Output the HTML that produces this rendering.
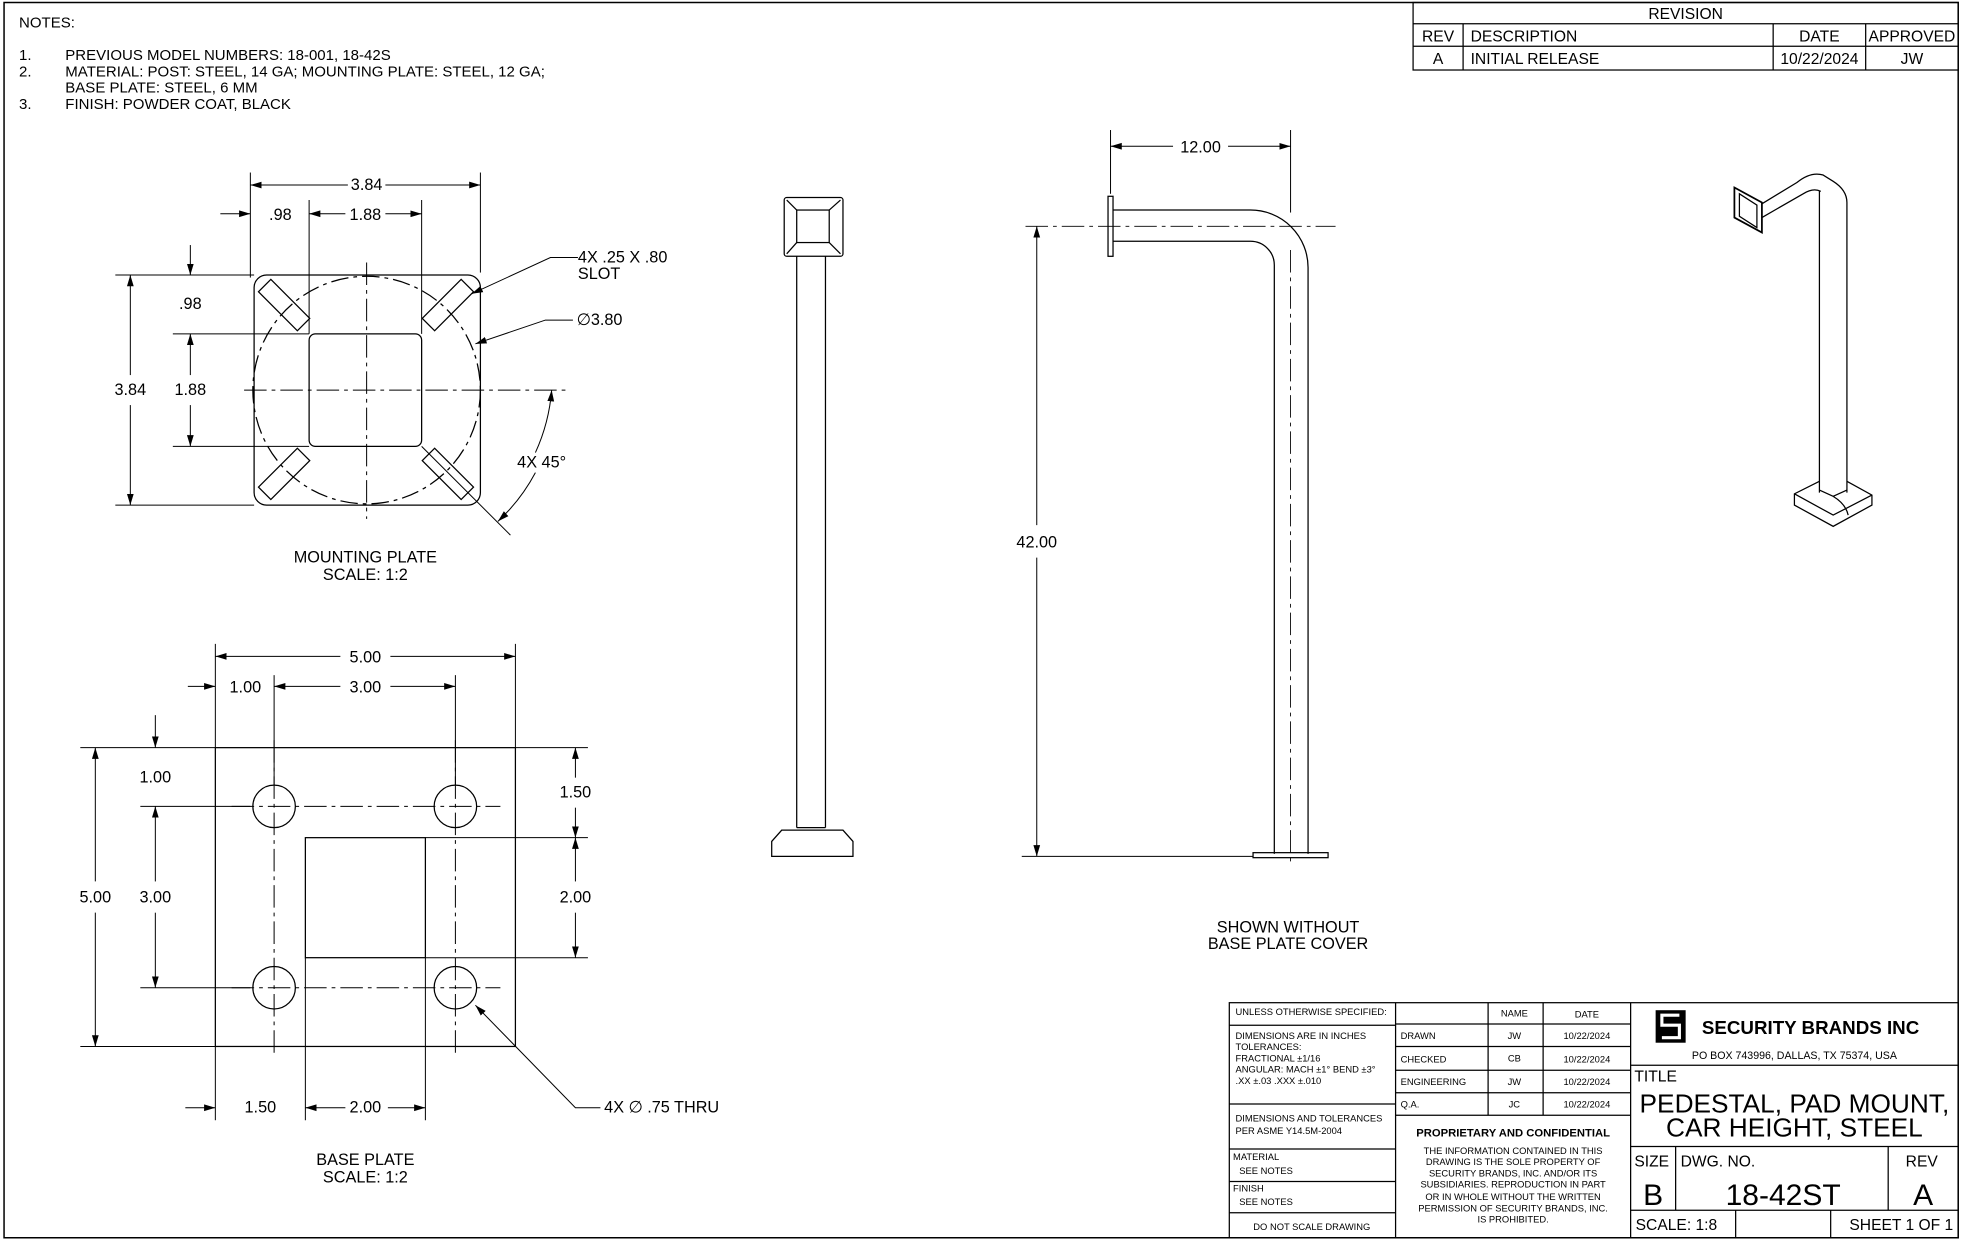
<!DOCTYPE html>
<html><head><meta charset="utf-8"><style>html,body{margin:0;padding:0;background:#fff}svg{display:block}text{font-family:"Liberation Sans",Arial,sans-serif;fill:#000}</style></head><body>
<svg width="1961" height="1239" viewBox="0 0 1568 991" xmlns="http://www.w3.org/2000/svg">
<defs>
<marker id="a" viewBox="0 0 10 10" refX="10" refY="5" markerWidth="9" markerHeight="9" markerUnits="userSpaceOnUse" orient="auto-start-reverse"><path d="M0,2L10,5L0,8z" fill="#000"/></marker>
</defs>
<g fill="none" stroke="#000" stroke-width="1">
<rect x="3" y="2" width="1563" height="988" stroke-width="1.2"/>
<rect x="1130" y="2" width="436" height="54"/>
<line x1="1130" y1="19" x2="1566" y2="19"/><line x1="1130" y1="37" x2="1566" y2="37"/>
<line x1="1170" y1="19" x2="1170" y2="56"/><line x1="1418" y1="19" x2="1418" y2="56"/><line x1="1492" y1="19" x2="1492" y2="56"/>
</g>
<g font-size="12.5">
<text x="1348" y="15" text-anchor="middle">REVISION</text>
<text x="1150" y="33" text-anchor="middle">REV</text><text x="1176" y="33">DESCRIPTION</text><text x="1455" y="33" text-anchor="middle">DATE</text><text x="1529" y="33" text-anchor="middle">APPROVED</text>
<text x="1150" y="51" text-anchor="middle">A</text><text x="1176" y="51">INITIAL RELEASE</text><text x="1455" y="51" text-anchor="middle">10/22/2024</text><text x="1529" y="51" text-anchor="middle">JW</text>
</g>
<g font-size="12">
<text x="15" y="22">NOTES:</text>
<text x="15" y="48">1.</text><text x="52" y="48">PREVIOUS MODEL NUMBERS: 18-001, 18-42S</text>
<text x="15" y="61">2.</text><text x="52" y="61">MATERIAL: POST: STEEL, 14 GA; MOUNTING PLATE: STEEL, 12 GA;</text>
<text x="52" y="74">BASE PLATE: STEEL, 6 MM</text>
<text x="15" y="87">3.</text><text x="52" y="87">FINISH: POWDER COAT, BLACK</text>
</g>

<g fill="none" stroke="#000" stroke-width="1">
<rect x="203" y="220" width="181" height="184" rx="10"/>
<rect x="247" y="267" width="90" height="90" rx="5"/>
<circle cx="293" cy="312" r="91" stroke-dasharray="14,4,3,4"/>
<g stroke-dasharray="18,4,3,4" stroke-width="0.8"><line x1="195" y1="312" x2="455" y2="312"/><line x1="293" y1="210" x2="293" y2="415"/></g>
<rect x="-22" y="-7" width="44" height="14" transform="translate(227,244) rotate(45)"/>
<rect x="-22" y="-7" width="44" height="14" transform="translate(358,244) rotate(-45)"/>
<rect x="-22" y="-7" width="44" height="14" transform="translate(227,379) rotate(-45)"/>
<rect x="-22" y="-7" width="44" height="14" transform="translate(358,379) rotate(45)"/>
<g stroke-width="0.8">
<line x1="200" y1="138" x2="200" y2="222"/><line x1="384" y1="138" x2="384" y2="218"/>
<line x1="247" y1="160" x2="247" y2="267"/><line x1="337" y1="160" x2="337" y2="267"/>
<line x1="200" y1="148" x2="278" y2="148" marker-start="url(#a)"/><line x1="308" y1="148" x2="384" y2="148" marker-end="url(#a)"/>
<line x1="176" y1="171" x2="200" y2="171" marker-end="url(#a)"/>
<line x1="247" y1="171" x2="276" y2="171" marker-start="url(#a)"/><line x1="308" y1="171" x2="337" y2="171" marker-end="url(#a)"/>
<line x1="92" y1="220" x2="203" y2="220"/><line x1="92" y1="404" x2="203" y2="404"/>
<line x1="138" y1="267" x2="247" y2="267"/><line x1="138" y1="357" x2="247" y2="357"/>
<line x1="104" y1="220" x2="104" y2="300" marker-start="url(#a)"/><line x1="104" y1="324" x2="104" y2="404" marker-end="url(#a)"/>
<line x1="152" y1="196" x2="152" y2="220" marker-end="url(#a)"/>
<line x1="152" y1="267" x2="152" y2="300" marker-start="url(#a)"/><line x1="152" y1="324" x2="152" y2="357" marker-end="url(#a)"/>
<polyline points="462,206 440,206 377,235" marker-end="url(#a)"/>
<polyline points="458,256 436,256 380,275" marker-end="url(#a)"/>
<line x1="337" y1="357" x2="408" y2="428"/>
<path d="M441,312 A148,148 0 0 1 428,362" marker-start="url(#a)"/>
<path d="M428,378 A148,148 0 0 1 398,417" marker-end="url(#a)"/>
</g>
</g>
<g font-size="13" text-anchor="middle">
<text x="293" y="152">3.84</text><text x="224" y="176">.98</text><text x="292" y="176">1.88</text>
<text x="104" y="316">3.84</text><text x="152" y="247">.98</text><text x="152" y="316">1.88</text>
<text x="433" y="374">4X 45°</text>
<text x="292" y="450">MOUNTING PLATE</text><text x="292" y="464">SCALE: 1:2</text>
</g>
<g font-size="13"><text x="462" y="210">4X .25 X .80</text><text x="462" y="223">SLOT</text><text x="461" y="260">∅3.80</text></g>

<g fill="none" stroke="#000" stroke-width="1">
<rect x="172" y="598" width="240" height="239"/>
<rect x="244" y="670" width="96" height="96"/>
<circle cx="219" cy="645" r="17"/><circle cx="364" cy="645" r="17"/><circle cx="219" cy="790" r="17"/><circle cx="364" cy="790" r="17"/>
<g stroke-dasharray="18,4,3,4" stroke-width="0.8">
<line x1="185" y1="645" x2="400" y2="645"/><line x1="185" y1="790" x2="400" y2="790"/>
<line x1="219" y1="592" x2="219" y2="845"/><line x1="364" y1="592" x2="364" y2="845"/>
</g>
<g stroke-width="0.8">
<line x1="172" y1="515" x2="172" y2="598"/><line x1="412" y1="515" x2="412" y2="598"/>
<line x1="219" y1="540" x2="219" y2="628"/><line x1="364" y1="540" x2="364" y2="628"/>
<line x1="172" y1="525" x2="272" y2="525" marker-start="url(#a)"/><line x1="312" y1="525" x2="412" y2="525" marker-end="url(#a)"/>
<line x1="150" y1="549" x2="172" y2="549" marker-end="url(#a)"/>
<line x1="219" y1="549" x2="272" y2="549" marker-start="url(#a)"/><line x1="312" y1="549" x2="364" y2="549" marker-end="url(#a)"/>
<line x1="64" y1="598" x2="172" y2="598"/><line x1="64" y1="837" x2="172" y2="837"/>
<line x1="112" y1="645" x2="200" y2="645"/><line x1="112" y1="790" x2="200" y2="790"/>
<line x1="76" y1="598" x2="76" y2="705" marker-start="url(#a)"/><line x1="76" y1="730" x2="76" y2="837" marker-end="url(#a)"/>
<line x1="124" y1="572" x2="124" y2="598" marker-end="url(#a)"/>
<line x1="124" y1="645" x2="124" y2="705" marker-start="url(#a)"/><line x1="124" y1="730" x2="124" y2="790" marker-end="url(#a)"/>
<line x1="412" y1="598" x2="470" y2="598"/><line x1="340" y1="670" x2="470" y2="670"/><line x1="340" y1="766" x2="470" y2="766"/>
<line x1="460" y1="598" x2="460" y2="622" marker-start="url(#a)"/><line x1="460" y1="646" x2="460" y2="670" marker-end="url(#a)"/>
<line x1="460" y1="670" x2="460" y2="705" marker-start="url(#a)"/><line x1="460" y1="730" x2="460" y2="766" marker-end="url(#a)"/>
<line x1="172" y1="837" x2="172" y2="896"/><line x1="244" y1="766" x2="244" y2="896"/><line x1="340" y1="766" x2="340" y2="896"/>
<line x1="148" y1="886" x2="172" y2="886" marker-end="url(#a)"/>
<line x1="244" y1="886" x2="276" y2="886" marker-start="url(#a)"/><line x1="310" y1="886" x2="340" y2="886" marker-end="url(#a)"/>
<polyline points="480,886 460,886 380,804" marker-end="url(#a)"/>
</g>
</g>
<g font-size="13" text-anchor="middle">
<text x="292" y="530">5.00</text><text x="196" y="554">1.00</text><text x="292" y="554">3.00</text>
<text x="76" y="722">5.00</text><text x="124" y="626">1.00</text><text x="124" y="722">3.00</text>
<text x="460" y="638">1.50</text><text x="460" y="722">2.00</text>
<text x="208" y="890">1.50</text><text x="292" y="890">2.00</text>
<text x="292" y="932">BASE PLATE</text><text x="292" y="946">SCALE: 1:2</text>
</g>
<text x="483" y="890" font-size="13">4X ∅ .75 THRU</text>

<g fill="none" stroke="#000" stroke-width="1">
<rect x="627" y="158" width="47" height="47" rx="2"/>
<rect x="637" y="168" width="26" height="26"/>
<line x1="629" y1="160" x2="637" y2="168"/><line x1="672" y1="160" x2="663" y2="168"/><line x1="629" y1="203" x2="637" y2="194"/><line x1="672" y1="203" x2="663" y2="194"/>
<line x1="637" y1="205" x2="637" y2="662"/><line x1="660" y1="205" x2="660" y2="662"/>
<path d="M617,685 L617,673 L625,664 L674,664 L682,673 L682,685 Z"/>
<line x1="637" y1="662" x2="660" y2="662"/>
</g>

<g fill="none" stroke="#000" stroke-width="1">
<rect x="886" y="157" width="4" height="48"/>
<path d="M890,168 L1000,168 A46,46 0 0 1 1046,214 L1046,683"/>
<path d="M890,193 L1000,193 A19,19 0 0 1 1019,212 L1019,683"/>
<rect x="1002" y="682" width="60" height="4"/>
<g stroke-dasharray="18,4,3,4" stroke-width="0.7">
<line x1="820" y1="181" x2="1068" y2="181"/><line x1="1032" y1="200" x2="1032" y2="692"/>
</g>
<g stroke-width="0.8">
<line x1="888" y1="104" x2="888" y2="155"/><line x1="1032" y1="104" x2="1032" y2="170"/>
<line x1="888" y1="117" x2="938" y2="117" marker-start="url(#a)"/><line x1="982" y1="117" x2="1032" y2="117" marker-end="url(#a)"/>
<line x1="817" y1="685" x2="1002" y2="685"/>
<line x1="829" y1="181" x2="829" y2="420" marker-start="url(#a)"/><line x1="829" y1="446" x2="829" y2="685" marker-end="url(#a)"/>
</g>
</g>
<g font-size="13" text-anchor="middle">
<text x="960" y="122">12.00</text><text x="829" y="438">42.00</text>
<text x="1030" y="746">SHOWN WITHOUT</text><text x="1030" y="759">BASE PLATE COVER</text>
</g>

<g fill="none" stroke="#000" stroke-width="1">
<path d="M1387,150 L1409,162 L1409,186 L1387,174 Z" stroke-width="1.4"/>
<path d="M1391,155 L1405,164 L1405,182 L1391,173 Z"/>
<path d="M1409,163 L1437,146 Q1448,137 1458,140 L1466,145 Q1477,152 1477,162 L1477,394"/>
<path d="M1409,174 L1442,155 Q1450,150 1456,153 L1455,153 L1455,394"/>
<path d="M1455,392 L1466,397 L1477,392"/>
<path d="M1455,385 L1435,395 L1435,404 L1466,421 L1497,404 L1497,396 L1477,385"/>
<path d="M1435,395 L1466,412 L1497,396"/>
<path d="M1466,397 Q1476,403 1478,412" />
</g>

<g fill="none" stroke="#000" stroke-width="1">
<rect x="983" y="802" width="583" height="188"/>
<line x1="1116" y1="802" x2="1116" y2="990"/><line x1="1304" y1="802" x2="1304" y2="990"/>
<line x1="983" y1="820" x2="1116" y2="820"/><line x1="983" y1="883" x2="1116" y2="883"/><line x1="983" y1="919" x2="1116" y2="919"/><line x1="983" y1="945" x2="1116" y2="945"/><line x1="983" y1="970" x2="1116" y2="970"/>
<line x1="1116" y1="819" x2="1304" y2="819"/><line x1="1116" y1="837" x2="1304" y2="837"/><line x1="1116" y1="856" x2="1304" y2="856"/><line x1="1116" y1="874" x2="1304" y2="874"/><line x1="1116" y1="892" x2="1304" y2="892"/>
<line x1="1190" y1="802" x2="1190" y2="892"/><line x1="1234" y1="802" x2="1234" y2="892"/>
<line x1="1304" y1="852" x2="1566" y2="852"/><line x1="1304" y1="917" x2="1566" y2="917"/><line x1="1304" y1="968" x2="1566" y2="968"/>
<line x1="1340" y1="917" x2="1340" y2="968"/><line x1="1510" y1="917" x2="1510" y2="968"/>
<line x1="1388" y1="968" x2="1388" y2="990"/><line x1="1464" y1="968" x2="1464" y2="990"/>
</g>
<g font-size="7.5">
<text x="988" y="812">UNLESS OTHERWISE SPECIFIED:</text>
<text x="988" y="831">DIMENSIONS ARE IN INCHES</text><text x="988" y="840">TOLERANCES:</text>
<text x="988" y="849">FRACTIONAL ±1/16</text><text x="988" y="858">ANGULAR: MACH ±1°  BEND ±3°</text><text x="988" y="867">.XX ±.03      .XXX ±.010</text>
<text x="988" y="897">DIMENSIONS AND TOLERANCES</text><text x="988" y="907">PER ASME Y14.5M-2004</text>
<text x="986" y="928">MATERIAL</text><text x="991" y="939">SEE NOTES</text>
<text x="986" y="953">FINISH</text><text x="991" y="964">SEE NOTES</text>
<text x="1049" y="984" text-anchor="middle">DO NOT SCALE DRAWING</text>
<text x="1211" y="813" text-anchor="middle">NAME</text><text x="1269" y="814" text-anchor="middle">DATE</text>
<text x="1120" y="831">DRAWN</text><text x="1211" y="831" text-anchor="middle">JW</text><text x="1269" y="831" text-anchor="middle">10/22/2024</text>
<text x="1120" y="850">CHECKED</text><text x="1211" y="849" text-anchor="middle">CB</text><text x="1269" y="850" text-anchor="middle">10/22/2024</text>
<text x="1120" y="868">ENGINEERING</text><text x="1211" y="868" text-anchor="middle">JW</text><text x="1269" y="868" text-anchor="middle">10/22/2024</text>
<text x="1120" y="886">Q.A.</text><text x="1211" y="886" text-anchor="middle">JC</text><text x="1269" y="886" text-anchor="middle">10/22/2024</text>
<g text-anchor="middle"><text x="1210" y="923">THE INFORMATION CONTAINED IN THIS</text><text x="1210" y="932">DRAWING IS THE SOLE PROPERTY OF</text><text x="1210" y="941">SECURITY BRANDS, INC. AND/OR ITS</text><text x="1210" y="950">SUBSIDIARIES. REPRODUCTION IN PART</text><text x="1210" y="960">OR IN WHOLE WITHOUT THE WRITTEN</text><text x="1210" y="969">PERMISSION OF SECURITY BRANDS, INC.</text><text x="1210" y="978">IS PROHIBITED.</text></g>
<text x="1435" y="847" text-anchor="middle" font-size="8.5">PO BOX 743996, DALLAS, TX 75374, USA</text>
</g>
<text x="1210" y="909" text-anchor="middle" font-size="9" font-weight="bold">PROPRIETARY AND CONFIDENTIAL</text>
<g transform="translate(1324,808)"><rect x="0" y="0" width="24" height="26" fill="#000"/><path d="M19,4 H5 V12 H19 V22 H5" fill="none" stroke="#fff" stroke-width="2.5"/></g>
<text x="1361" y="827" font-size="15" font-weight="bold">SECURITY BRANDS INC</text>
<text x="1307" y="865" font-size="12.5">TITLE</text>
<text x="1435" y="890" text-anchor="middle" font-size="21">PEDESTAL, PAD MOUNT,</text>
<text x="1435" y="909" text-anchor="middle" font-size="21">CAR HEIGHT, STEEL</text>
<text x="1307" y="933" font-size="12.5">SIZE</text><text x="1344" y="933" font-size="12.5">DWG.  NO.</text><text x="1524" y="933" font-size="12.5">REV</text>
<text x="1322" y="964" text-anchor="middle" font-size="24">B</text><text x="1426" y="964" text-anchor="middle" font-size="24">18-42ST</text><text x="1538" y="964" text-anchor="middle" font-size="24">A</text>
<text x="1308" y="984" font-size="12.5">SCALE: 1:8</text><text x="1562" y="984" text-anchor="end" font-size="12.5">SHEET 1 OF 1</text>
</svg>
</body></html>
